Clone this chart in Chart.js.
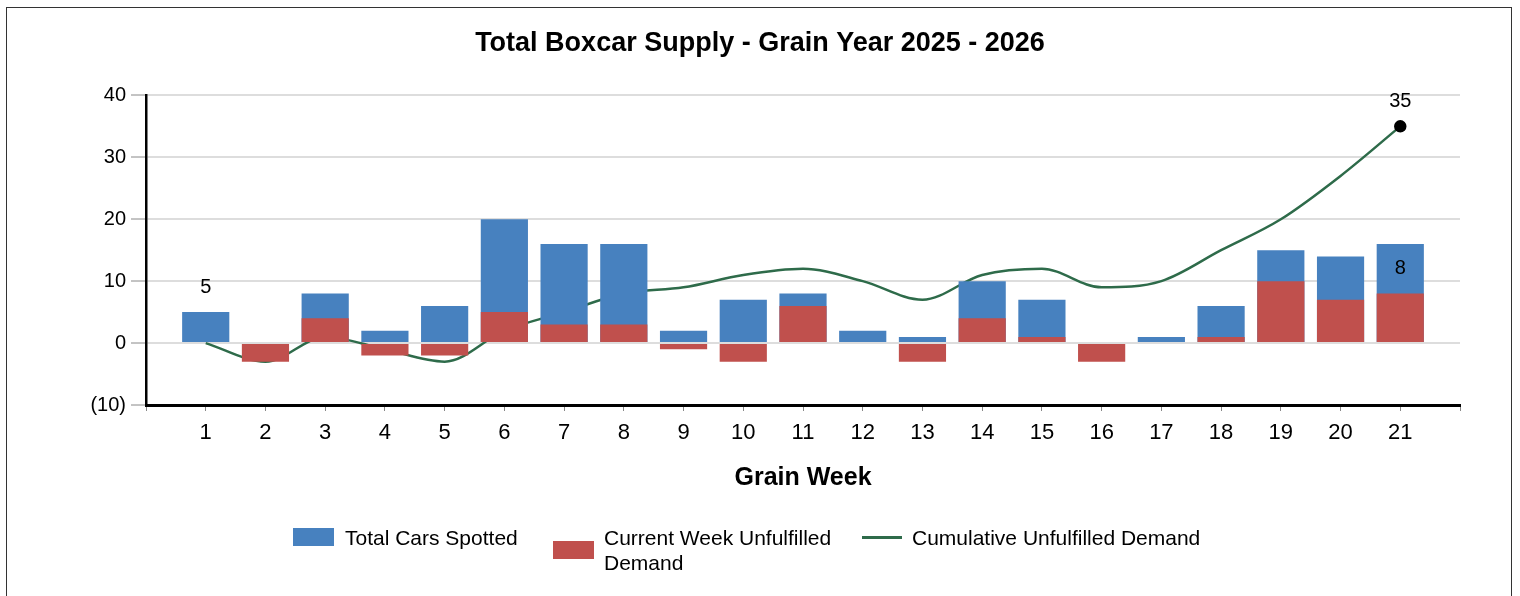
<!DOCTYPE html>
<html>
<head>
<meta charset="utf-8">
<script src="https://cdn.jsdelivr.net/npm/chart.js@4.4.1/dist/chart.umd.min.js"></script>
<style>
  body { margin: 0; background: #fff; font-family: "Liberation Sans", Arial, sans-serif; }
  #frame { position: absolute; left: 6px; top: 7px; width: 1506px; height: 600px; border: 1.5px solid #333; box-sizing: border-box; }
  #wrap { position: absolute; left: 0; top: 0; width: 1520px; height: 596px; }
  .lg { position: absolute; font-size: 21px; color: #000; line-height: 25px; }
  .sw { position: absolute; }
</style>
</head>
<body>
<div id="frame"></div>
<div id="wrap"><canvas id="boxcarChart"></canvas></div>

<!-- legend -->
<div class="sw" style="left:293px;top:528px;width:41px;height:18px;background:#4781BF"></div>
<div class="lg" style="left:345px;top:525px">Total Cars Spotted</div>
<div class="sw" style="left:553px;top:541px;width:41px;height:18px;background:#C0504D"></div>
<div class="lg" style="left:604px;top:525px">Current Week Unfulfilled<br>Demand</div>
<div class="sw" style="left:862px;top:536px;width:40px;height:3px;background:#2E6B4A"></div>
<div class="lg" style="left:912px;top:525px">Cumulative Unfulfilled Demand</div>

<script>
// grain weeks
var weeks = [1, 2, 3, 4, 5, 6, 7, 8, 9, 10, 11, 12, 13, 14, 15, 16, 17, 18, 19, 20, 21];

// values
var totalCarsSpotted = [5, 0, 8, 2, 6, 20, 16, 16, 2, 7, 8, 2, 1, 10, 7, 0, 1, 6, 15, 14, 16];
var weekUnfulfilled = [0, -3, 4, -2, -2, 5, 3, 3, -1, -3, 6, 0, -3, 4, 1, -3, 0, 1, 10, 7, 8];
var cumulativeUnfulfilled = [0, -3, 1, -1, -3, 2, 5, 8, 9, 11, 12, 10, 7, 11, 12, 9, 10, 15, 20, 27, 35];

// which points get a value label
var spottedLabelIdx = [0];
var unfulfilledLabelIdx = [20];
var cumulativeLabelIdx = [20];

var yTicks = [-10, 0, 10, 20, 30, 40];

var FONT = '"Liberation Sans", Arial, sans-serif';

function toPoints(vals) {
	return vals.map(function (v, i) { return { x: weeks[i], y: v }; });
}

var lastIdx = weeks.length - 1;

// draws the few value labels seen on the original
var valueLabels = {
	id: "valueLabels",
	afterDatasetsDraw: function (chart) {
		var ctx = chart.ctx;
		var sets = [
			{ ds: 1, idx: spottedLabelIdx, vals: totalCarsSpotted },
			{ ds: 2, idx: unfulfilledLabelIdx, vals: weekUnfulfilled },
			{ ds: 0, idx: cumulativeLabelIdx, vals: cumulativeUnfulfilled },
		];
		ctx.save();
		ctx.font = "20px " + FONT;
		ctx.fillStyle = "#000";
		ctx.textAlign = "center";
		ctx.textBaseline = "middle";
		sets.forEach(function (s) {
			var meta = chart.getDatasetMeta(s.ds);
			s.idx.forEach(function (i) {
				var el = meta.data[i];
				ctx.fillText(String(s.vals[i]), el.x, el.y - 25);
			});
		});
		ctx.restore();
	},
};

var ctx = document.getElementById("boxcarChart").getContext("2d");

var chart = new Chart(ctx, {
	type: "bar",
	data: {
		datasets: [
			{
				type: "line",
				label: "Cumulative Unfulfilled Demand",
				data: toPoints(cumulativeUnfulfilled),
				borderColor: "#2E6B4A",
				borderWidth: 2.5,
				backgroundColor: "#000",
				cubicInterpolationMode: "monotone",
				pointRadius: function (c) { return c.dataIndex === lastIdx ? 5 : 0; },
				pointBackgroundColor: "#000",
				pointBorderColor: "#000",
				order: 3,
			},
			{
				label: "Total Cars Spotted",
				data: toPoints(totalCarsSpotted),
				backgroundColor: "#4781BF",
				grouped: false,
				barPercentage: 1,
				categoryPercentage: 0.79,
				order: 2,
			},
			{
				label: "Current Week Unfulfilled Demand",
				data: toPoints(weekUnfulfilled),
				backgroundColor: "#C0504D",
				grouped: false,
				barPercentage: 1,
				categoryPercentage: 0.79,
				order: 1,
			},
		],
	},
	options: {
		responsive: true,
		maintainAspectRatio: false,
		animation: false,
		layout: { padding: { left: 0, right: 0, top: 0, bottom: 101 } },
		plugins: {
			legend: { display: false },
			tooltip: { enabled: false },
			title: {
				display: true,
				text: "Total Boxcar Supply - Grain Year 2025 - 2026",
				color: "#000",
				font: { family: FONT, size: 27, weight: "bold" },
				padding: { top: 27, bottom: 36 },
			},
		},
		scales: {
			x: {
				type: "linear",
				min: 0,
				max: weeks.length + 1,
				offset: false,
				afterFit: function (s) { s.height = 90; },
				border: { color: "#000", width: 3 },
				grid: { offset: false, drawOnChartArea: false, drawTicks: true, tickLength: 6, tickColor: "#888" },
				ticks: {
					stepSize: 1,
					autoSkip: false,
					maxRotation: 0,
					padding: 9,
					color: "#000",
					font: { family: FONT, size: 22 },
					callback: function (v) { return weeks.indexOf(v) >= 0 ? String(v) : ""; },
				},
				title: {
					display: true,
					text: "Grain Week",
					color: "#000",
					font: { family: FONT, size: 25, weight: "bold" },
					padding: { top: 0, bottom: 2 },
				},
			},
			y: {
				min: yTicks[0],
				max: yTicks[yTicks.length - 1],
				afterFit: function (s) { s.width = 146; },
				afterBuildTicks: function (s) { s.ticks = yTicks.map(function (v) { return { value: v }; }); },
				border: { color: "#000", width: 2.5 },
				grid: { color: "#DDDDDD", lineWidth: 2, tickLength: 15, tickColor: "#888", tickWidth: 1 },
				ticks: {
					padding: 5,
					color: "#000",
					font: { family: FONT, size: 20 },
					callback: function (v) { return v < 0 ? "(" + (-v) + ")" : String(v); },
				},
			},
			// empty right-hand axis, only reserves the right margin
			yRight: {
				position: "right",
				min: 0,
				max: 1,
				afterFit: function (s) { s.width = 60; },
				border: { display: false },
				grid: { display: false },
				ticks: { display: false },
			},
		},
	},
	plugins: [valueLabels],
});
</script>
</body>
</html>
